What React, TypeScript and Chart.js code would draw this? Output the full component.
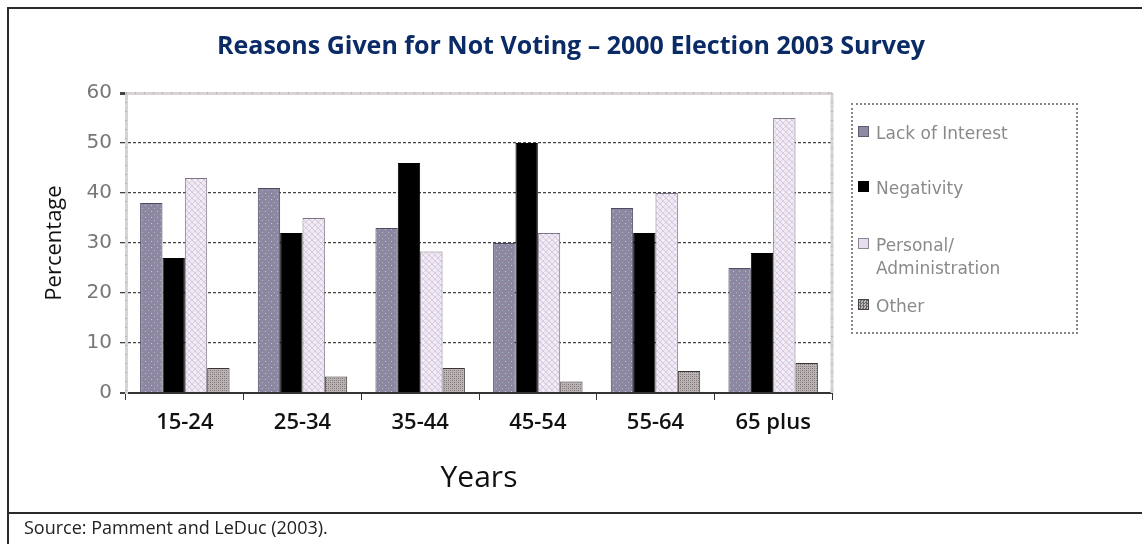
import React, { useEffect, useRef } from "react";
import { Chart, registerables } from "chart.js";
Chart.register(...registerables);

const TITLE = "Reasons Given for Not Voting – 2000 Election 2003 Survey";
const categories = ["15-24", "25-34", "35-44", "45-54", "55-64", "65 plus"];
const seriesNames = ["Lack of Interest", "Negativity", "Personal/ Administration", "Other"];
const legendLines = [["Lack of Interest"], ["Negativity"], ["Personal/", "Administration"], ["Other"]];
const lackOfInterest = [38, 41, 33, 30, 37, 25];
const negativity = [27, 32, 46, 50, 32, 28];
const personalAdmin = [43, 35, 28.3, 32, 40, 55];
const other = [5, 3.3, 5, 2.3, 4.4, 6];
const yMin = 0;
const yMax = 60;
const yStep = 10;
const yAxisTitle = "Percentage";
const xAxisTitle = "Years";
const sourceText = "Source: Pamment and LeDuc (2003).";

function tile(size: number, draw: (g: CanvasRenderingContext2D) => void) {
  const c = document.createElement("canvas");
  c.width = size;
  c.height = size;
  const g = c.getContext("2d")!;
  draw(g);
  return c;
}

const plotFrame = {
  id: "plotFrame",
  beforeDatasetsDraw(chart: any) {
    const { ctx, chartArea: a } = chart;
    ctx.save();
    ctx.strokeStyle = "#d8d2d2";
    ctx.lineWidth = 3;
    ctx.beginPath();
    ctx.moveTo(a.right, a.top);
    ctx.lineTo(a.right, a.bottom);
    ctx.stroke();
    ctx.strokeStyle = "#9a9494";
    ctx.lineWidth = 1;
    ctx.setLineDash([1, 8]);
    ctx.beginPath();
    ctx.moveTo(a.right, a.top);
    ctx.lineTo(a.right, a.bottom);
    ctx.moveTo(a.left, a.top);
    ctx.lineTo(a.right, a.top);
    ctx.moveTo(a.left, a.top);
    ctx.lineTo(a.left, a.bottom);
    ctx.stroke();
    ctx.restore();
  },
};

const swatchStyles: React.CSSProperties[] = [
  { background: "#8f89a3", border: "1px solid #5e5a70" },
  { background: "#000", border: "1px solid #000" },
  { background: "#e4deee", border: "1px solid #8a8694" },
  { background: "repeating-conic-gradient(#6f6868 0 25%, #c4bcbc 0 50%) 0 0/3px 3px", border: "1px solid #444" },
];
const legendCenters = [133, 188, 245, 306];

export default function App() {
  const ref = useRef<HTMLCanvasElement | null>(null);
  useEffect(() => {
    const canvas = ref.current!;
    const ctx = canvas.getContext("2d")!;
    const lackPat = ctx.createPattern(
      tile(6, (g) => {
        g.fillStyle = "#8d87a1";
        g.fillRect(0, 0, 6, 6);
        g.fillStyle = "#b9cad2";
        g.fillRect(1, 1, 1, 1);
        g.fillStyle = "#a8b8c4";
        g.fillRect(4, 4, 1, 1);
      }),
      "repeat"
    )!;
    const persPat = ctx.createPattern(
      tile(6, (g) => {
        g.fillStyle = "#eeeaf3";
        g.fillRect(0, 0, 6, 6);
        g.fillStyle = "#cdc6e4";
        for (let i = 0; i < 6; i++) g.fillRect(i, i, 1, 1);
        g.fillStyle = "#e8ccd9";
        for (let i = 0; i < 6; i++) g.fillRect(5 - i, i, 1, 1);
        g.fillStyle = "#ffffff";
        g.fillRect(3, 0, 1, 1);
      }),
      "repeat"
    )!;
    const otherPat = ctx.createPattern(
      tile(4, (g) => {
        g.fillStyle = "#bcb4b4";
        g.fillRect(0, 0, 4, 4);
        g.fillStyle = "#7a7272";
        g.fillRect(0, 0, 1, 1);
        g.fillRect(2, 2, 1, 1);
        g.fillStyle = "#948c8c";
        g.fillRect(2, 0, 1, 1);
        g.fillRect(0, 2, 1, 1);
      }),
      "repeat"
    )!;

    const chart = new Chart(canvas, {
      type: "bar",
      data: {
        labels: categories,
        datasets: [
          { label: seriesNames[0], data: lackOfInterest, backgroundColor: lackPat, borderColor: "#4e4a60", borderWidth: 1 },
          { label: seriesNames[1], data: negativity, backgroundColor: "#000000", borderColor: "#000000", borderWidth: 1 },
          { label: seriesNames[2], data: personalAdmin, backgroundColor: persPat, borderColor: "#7a7684", borderWidth: 1 },
          { label: seriesNames[3], data: other, backgroundColor: otherPat, borderColor: "#3a3434", borderWidth: 1 },
        ],
      },
      options: {
        responsive: false,
        animation: false,
        layout: { padding: 0 },
        datasets: { bar: { categoryPercentage: 0.76, barPercentage: 1.0 } },
        plugins: {
          legend: { display: false },
          tooltip: { enabled: false },
          title: {
            display: true,
            text: TITLE,
            color: "#0a2b66",
            font: { family: "Open Sans", size: 25, weight: "bold" },
            padding: { top: 32, bottom: 31 },
          },
        },
        scales: {
          x: {
            grid: { display: true, drawOnChartArea: false, drawTicks: true, tickLength: 7, tickColor: "#333", offset: true },
            border: { display: true, color: "#333", width: 2 },
            ticks: { color: "#111", font: { family: "Open Sans", size: 22, weight: "600" }, padding: 10, maxRotation: 0 },
            title: { display: true, text: xAxisTitle, color: "#111", font: { family: "Open Sans", size: 30 }, padding: { top: 0, bottom: 14 } },
            afterFit: (s: any) => {
              s.height = 117;
            },
          },
          y: {
            position: "left",
            min: yMin,
            max: yMax,
            ticks: { stepSize: yStep, color: "#777", font: { family: "DejaVu Sans", size: 20 }, padding: 8 },
            grid: {
              color: (c: any) => (c.tick && c.tick.value === yMax ? "#d8d2d2" : c.tick && c.tick.value === 0 ? "#333" : "#444"),
              lineWidth: (c: any) => (c.tick && c.tick.value === yMax ? 3 : c.tick && c.tick.value === 0 ? 2 : 1.3),
              tickLength: 6,
              tickColor: "#444",
            },
            border: {
              display: true,
              color: "#d8d2d2",
              width: 3,
              dash: (c: any) => (c.tick && (c.tick.value === 0 || c.tick.value === yMax) ? [] : [3, 2]),
            },
            title: { display: true, text: yAxisTitle, color: "#111", font: { family: "Open Sans", size: 22 }, padding: { top: 42, bottom: 0 } },
            afterFit: (s: any) => {
              s.width = 126;
            },
          },
          yR: {
            type: "linear",
            position: "right",
            display: true,
            grid: { display: false, drawTicks: false },
            ticks: { display: false },
            border: { display: false },
            afterFit: (s: any) => {
              s.width = 310;
            },
          },
        },
      } as any,
      plugins: [plotFrame],
    });
    return () => chart.destroy();
  }, []);

  return (
    <div style={{ position: "absolute", left: 0, top: 0, width: 1142, height: 544, overflow: "hidden", background: "#fff" }}>
      <canvas ref={ref} width={1142} height={510} style={{ position: "absolute", left: 0, top: 0, width: 1142, height: 510 }} />
      <div style={{ position: "absolute", left: 7, top: 7, width: 1200, height: 503, borderLeft: "2px solid #2a2a2a", borderTop: "2px solid #2a2a2a", borderBottom: "2px solid #2a2a2a", pointerEvents: "none" }} />
      <div style={{ position: "absolute", left: 7, top: 510, width: 2, height: 40, background: "#2a2a2a" }} />
      <div style={{ position: "absolute", left: 24, top: 515, fontFamily: "Open Sans", fontSize: 18, color: "#222", whiteSpace: "nowrap", lineHeight: "24px" }}>{sourceText}</div>
      <div style={{ position: "absolute", left: 851, top: 103, width: 223, height: 227, border: "2px dotted #8a8585" }} />
      {legendLines.map((lines, i) => (
        <React.Fragment key={i}>
          <div style={{ position: "absolute", left: 858, top: legendCenters[i] - 7, width: 11, height: 11, boxSizing: "border-box", ...swatchStyles[i] }} />
          <div style={{ position: "absolute", left: 876, top: legendCenters[i] - 11.5, fontFamily: "DejaVu Sans", fontSize: 17, lineHeight: "23px", color: "#8a8a8a", whiteSpace: "nowrap" }}>
            {lines.map((t, j) => (
              <div key={j}>{t}</div>
            ))}
          </div>
        </React.Fragment>
      ))}
    </div>
  );
}
